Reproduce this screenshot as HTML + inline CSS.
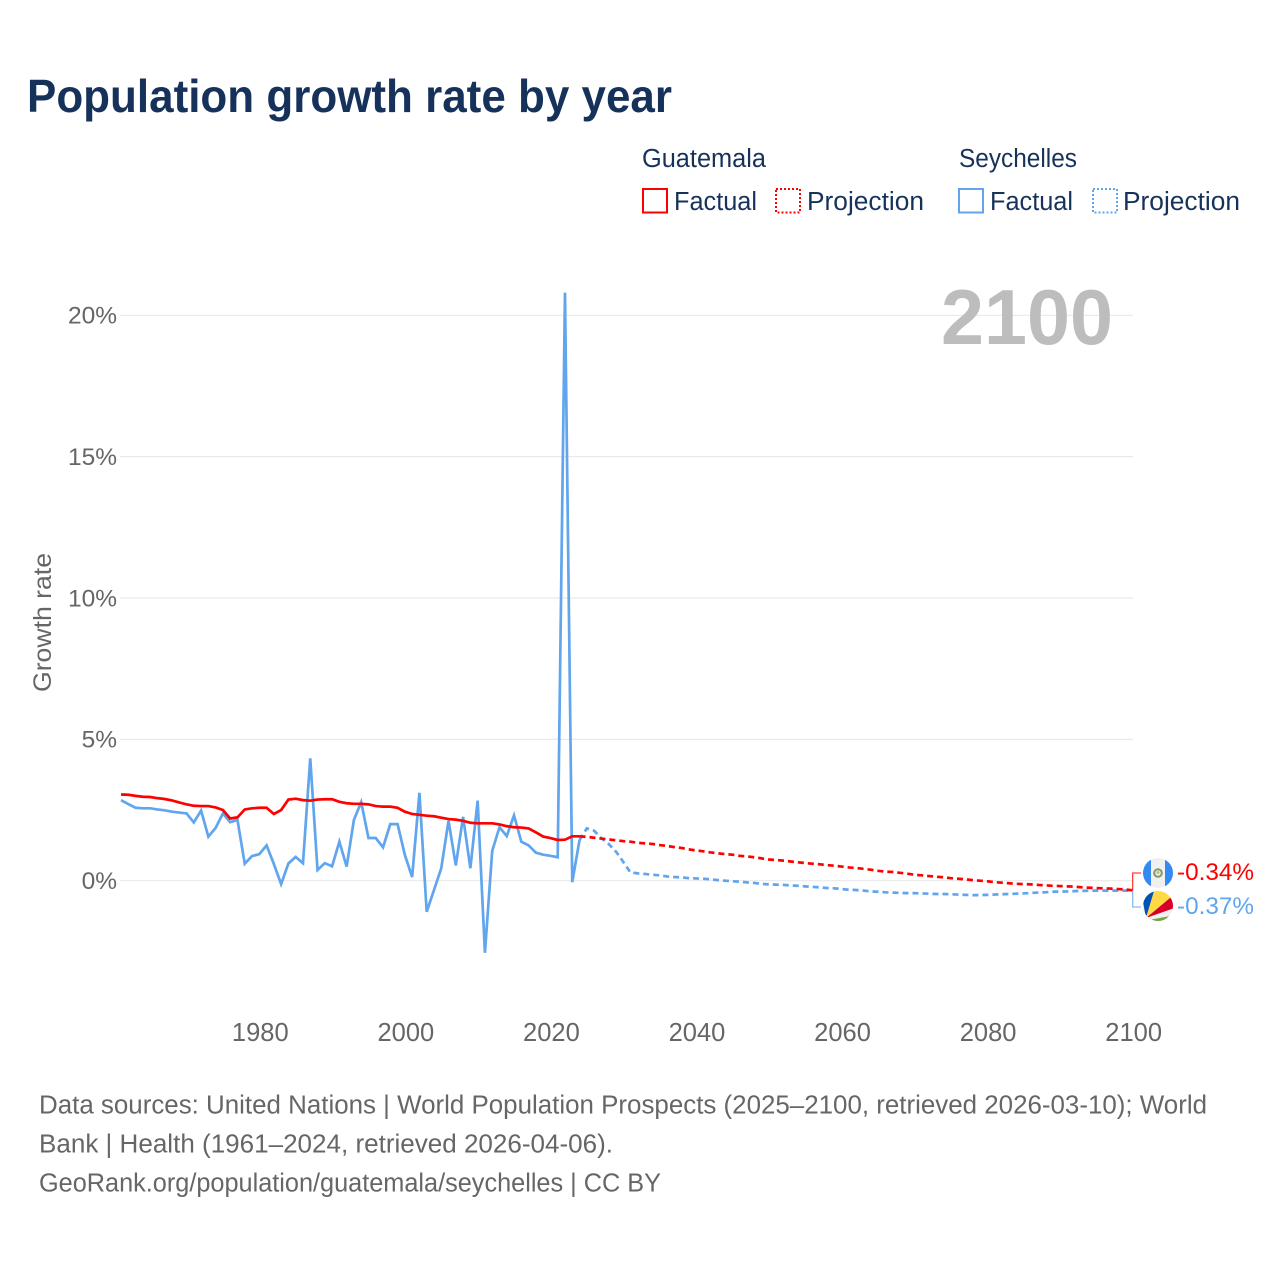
<!DOCTYPE html>
<html lang="en">
<head>
<meta charset="utf-8">
<title>Population growth rate by year</title>
<style>
html,body{margin:0;padding:0;background:#fff;}
svg{display:block;font-family:"Liberation Sans",sans-serif;}
</style>
</head>
<body>
<svg id="chart" width="1280" height="1280" viewBox="0 0 1280 1280" xmlns="http://www.w3.org/2000/svg">
  <defs>
    <clipPath id="flag-clip-a"><circle cx="1158" cy="873" r="15"/></clipPath>
    <clipPath id="flag-clip-b"><circle cx="1158" cy="906" r="15"/></clipPath>
  </defs>
  <rect width="1280" height="1280" fill="#fff"/>
  <text x="27" y="112" font-size="46" font-weight="700" fill="#17325a" textLength="645" lengthAdjust="spacingAndGlyphs">Population growth rate by year</text>

  <g font-size="25.500" fill="#17325a">
    <text x="642" y="167" textLength="124" lengthAdjust="spacingAndGlyphs">Guatemala</text>
    <rect x="643" y="189" width="24" height="23.500" fill="none" stroke="#ff0000" stroke-width="2"/>
    <text x="674" y="210" textLength="83" lengthAdjust="spacingAndGlyphs">Factual</text>
    <rect x="776" y="189" width="24" height="23.500" fill="none" stroke="#ff0000" stroke-width="2" stroke-dasharray="2 2"/>
    <text x="807" y="210" textLength="117" lengthAdjust="spacingAndGlyphs">Projection</text>
    <text x="959" y="167" textLength="118" lengthAdjust="spacingAndGlyphs">Seychelles</text>
    <rect x="959" y="189" width="24" height="23.500" fill="none" stroke="#60a5ee" stroke-width="2"/>
    <text x="990" y="210" textLength="83" lengthAdjust="spacingAndGlyphs">Factual</text>
    <rect x="1093" y="189" width="24" height="23.500" fill="none" stroke="#60a5ee" stroke-width="2" stroke-dasharray="2 2"/>
    <text x="1123" y="210" textLength="117" lengthAdjust="spacingAndGlyphs">Projection</text>
  </g>

  <g id="grid"></g>
  <g id="y-ticks"></g>
  <g id="x-ticks"></g>
  <text transform="translate(51,692) rotate(-90)" font-size="25" fill="#666" textLength="139" lengthAdjust="spacingAndGlyphs">Growth rate</text>
  <text x="941" y="344" font-size="78" font-weight="700" fill="#bdbdbd" textLength="172" lengthAdjust="spacingAndGlyphs">2100</text>

  <g id="series"></g>
  <g id="connectors"></g>

  <g clip-path="url(#flag-clip-a)">
    <rect x="1143" y="858" width="30" height="30" fill="#f0f0f0"/>
    <rect x="1143" y="858" width="8" height="30" fill="#338af3"/>
    <rect x="1165" y="858" width="8" height="30" fill="#338af3"/>
    <circle cx="1158" cy="873" r="3.800" fill="none" stroke="#7f9a62" stroke-width="2"/>
    <circle cx="1158" cy="872.500" r="1.500" fill="#c9b878"/>
  </g>
  <g clip-path="url(#flag-clip-b)">
    <rect x="1143" y="891" width="30" height="30" fill="#f0f0f0"/>
    <polygon points="1146,918 1140,886 1155,888" fill="#0052b4"/>
    <polygon points="1146,918 1155,888 1176,888 1176,893" fill="#ffda44"/>
    <polygon points="1146,918 1176,893 1176,907.500" fill="#d80027"/>
    <polygon points="1149,920 1176,915 1176,925 1149,925" fill="#6da544"/>
  </g>

  <text x="1177" y="880" font-size="24.500" fill="#ff0000" textLength="77" lengthAdjust="spacingAndGlyphs">-0.34%</text>
  <text x="1177" y="914" font-size="24.500" fill="#60a5ee" textLength="77" lengthAdjust="spacingAndGlyphs">-0.37%</text>

  <g font-size="25.500" fill="#666">
    <text x="39" y="1113.500" textLength="1168" lengthAdjust="spacingAndGlyphs">Data sources: United Nations | World Population Prospects (2025–2100, retrieved 2026-03-10); World</text>
    <text x="39" y="1152.500" textLength="574" lengthAdjust="spacingAndGlyphs">Bank | Health (1961–2024, retrieved 2026-04-06).</text>
    <text x="39" y="1191.500" textLength="622" lengthAdjust="spacingAndGlyphs">GeoRank.org/population/guatemala/seychelles | CC BY</text>
  </g>
</svg>
<script>
const factualStartYear = 1961;
const projectionStartYear = 2024;
const yTickValues = [0, 5, 10, 15, 20];
const yTickLabels = ["0%", "5%", "10%", "15%", "20%"];
const xTickValues = [1980, 2000, 2020, 2040, 2060, 2080, 2100];
const xTickLabels = ["1980", "2000", "2020", "2040", "2060", "2080", "2100"];

const guatemalaFactual = [
  3.05,3.04,3.00,2.97,2.96,2.92,2.89,2.84,2.77,2.70,
  2.65,2.64,2.64,2.59,2.50,2.20,2.24,2.52,2.56,2.58,
  2.58,2.36,2.50,2.87,2.90,2.85,2.83,2.87,2.88,2.88,
  2.79,2.74,2.72,2.72,2.70,2.64,2.62,2.62,2.58,2.44,
  2.36,2.33,2.30,2.28,2.23,2.18,2.16,2.12,2.05,2.03,
  2.03,2.03,1.99,1.93,1.89,1.88,1.85,1.71,1.56,1.51,
  1.44,1.45,1.57,1.57
];
const seychellesFactual = [
  2.85,2.71,2.58,2.56,2.56,2.52,2.49,2.44,2.41,2.38,
  2.06,2.48,1.56,1.87,2.38,2.07,2.15,0.60,0.87,0.94,
  1.25,0.59,-0.12,0.61,0.84,0.62,4.33,0.38,0.62,0.51,
  1.38,0.50,2.15,2.78,1.51,1.51,1.18,2.00,2.00,0.91,
  0.13,3.11,-1.10,-0.33,0.44,2.12,0.54,2.26,0.44,2.83,
  -2.55,1.05,1.89,1.58,2.31,1.38,1.25,0.99,0.92,0.88,
  0.83,20.8,-0.05,1.44
];
const guatemalaProjection = [
  1.57,1.55,1.52,1.49,1.46,1.43,1.40,
  1.38,1.34,1.32,1.30,1.26,1.23,1.19,1.16,1.11,1.07,
  1.04,1.00,0.97,0.94,0.92,0.88,0.86,0.83,0.79,0.75,
  0.73,0.71,0.68,0.65,0.625,0.60,0.58,0.55,0.53,0.50,
  0.47,0.45,0.42,0.39,0.35,0.32,0.31,0.28,0.25,0.21,
  0.19,0.165,0.14,0.12,0.09,0.07,0.05,0.02,0,-0.02,
  -0.05,-0.07,-0.09,-0.11,-0.12,-0.13,-0.15,-0.165,-0.18,-0.19,
  -0.20,-0.21,-0.235,-0.25,-0.26,-0.27,-0.28,-0.295,-0.31,-0.34
];
const seychellesProjection = [
  1.44,1.85,1.77,1.50,1.30,1.03,0.67,
  0.29,0.26,0.24,0.21,0.19,0.15,0.13,0.12,0.09,0.08,
  0.07,0.05,0.02,0,-0.02,-0.035,-0.06,-0.08,-0.11,-0.13,
  -0.14,-0.15,-0.165,-0.18,-0.2,-0.22,-0.235,-0.26,-0.27,-0.295,
  -0.32,-0.33,-0.35,-0.38,-0.39,-0.41,-0.42,-0.43,-0.44,-0.44,
  -0.45,-0.46,-0.47,-0.47,-0.48,-0.49,-0.50,-0.51,-0.51,-0.50,
  -0.49,-0.48,-0.47,-0.46,-0.45,-0.43,-0.42,-0.41,-0.39,-0.385,
  -0.38,-0.37,-0.36,-0.355,-0.35,-0.35,-0.35,-0.35,-0.35,-0.37
];

const NS = "http://www.w3.org/2000/svg";
function xScale(year) { return 259.3 + (year - 1980) * 7.278; }
function yScale(value) { return 880.7 - value * 28.27; }
function make(tag, attrs, parent) {
  const el = document.createElementNS(NS, tag);
  for (const k in attrs) el.setAttribute(k, attrs[k]);
  parent.appendChild(el);
  return el;
}
function pathFor(values, startYear) {
  return values.map(function (v, i) {
    return (i ? "L" : "M") + xScale(startYear + i).toFixed(2) + " " + yScale(v).toFixed(2);
  }).join("");
}

const gridGroup = document.getElementById("grid");
const yGroup = document.getElementById("y-ticks");
yTickValues.forEach(function (v, i) {
  const line = make("line", {x1: 120, x2: 1133, y1: yScale(v), y2: yScale(v), stroke: "#e9e9e9", "stroke-width": 1.2}, gridGroup);
  
  
  const t = make("text", {x: 117, y: yScale(v) + 8.300, "text-anchor": "end", "font-size": 24.500, fill: "#666"}, yGroup);
  
  
  t.textContent = yTickLabels[i];
});

const xGroup = document.getElementById("x-ticks");
xTickValues.forEach(function (v, i) {
  const t = make("text", {x: xScale(v) + 1, y: 1041, "text-anchor": "middle", "font-size": 25.500, fill: "#666"}, xGroup);
  
  
  t.textContent = xTickLabels[i];
});

const seriesGroup = document.getElementById("series");
const seyFact = make("path", {d: pathFor(seychellesFactual, factualStartYear), fill: "none", stroke: "#60a5ee", "stroke-width": 2.700}, seriesGroup);


const gtmFact = make("path", {d: pathFor(guatemalaFactual, factualStartYear), fill: "none", stroke: "#ff0000", "stroke-width": 2.700}, seriesGroup);


const seyProj = make("path", {d: pathFor(seychellesProjection, projectionStartYear), fill: "none", stroke: "#60a5ee", "stroke-width": 2.700, "stroke-dasharray": "6 4"}, seriesGroup);


const gtmProj = make("path", {d: pathFor(guatemalaProjection, projectionStartYear), fill: "none", stroke: "#ff0000", "stroke-width": 2.700, "stroke-dasharray": "6 4"}, seriesGroup);



const connectorGroup = document.getElementById("connectors");
const lastX = xScale(2100);
const gtmEndY = yScale(guatemalaProjection[guatemalaProjection.length - 1]);
const seyEndY = yScale(seychellesProjection[seychellesProjection.length - 1]);
const gtmConn = make("path", {d: "M" + lastX + " " + gtmEndY + "V873H1141", fill: "none", stroke: "#ff0000", "stroke-opacity": 0.75, "stroke-width": 1.300}, connectorGroup);


const seyConn = make("path", {d: "M" + lastX + " " + seyEndY + "V907H1141", fill: "none", stroke: "#60a5ee", "stroke-opacity": 0.75, "stroke-width": 1.300}, connectorGroup);


</script>
</body>
</html>
